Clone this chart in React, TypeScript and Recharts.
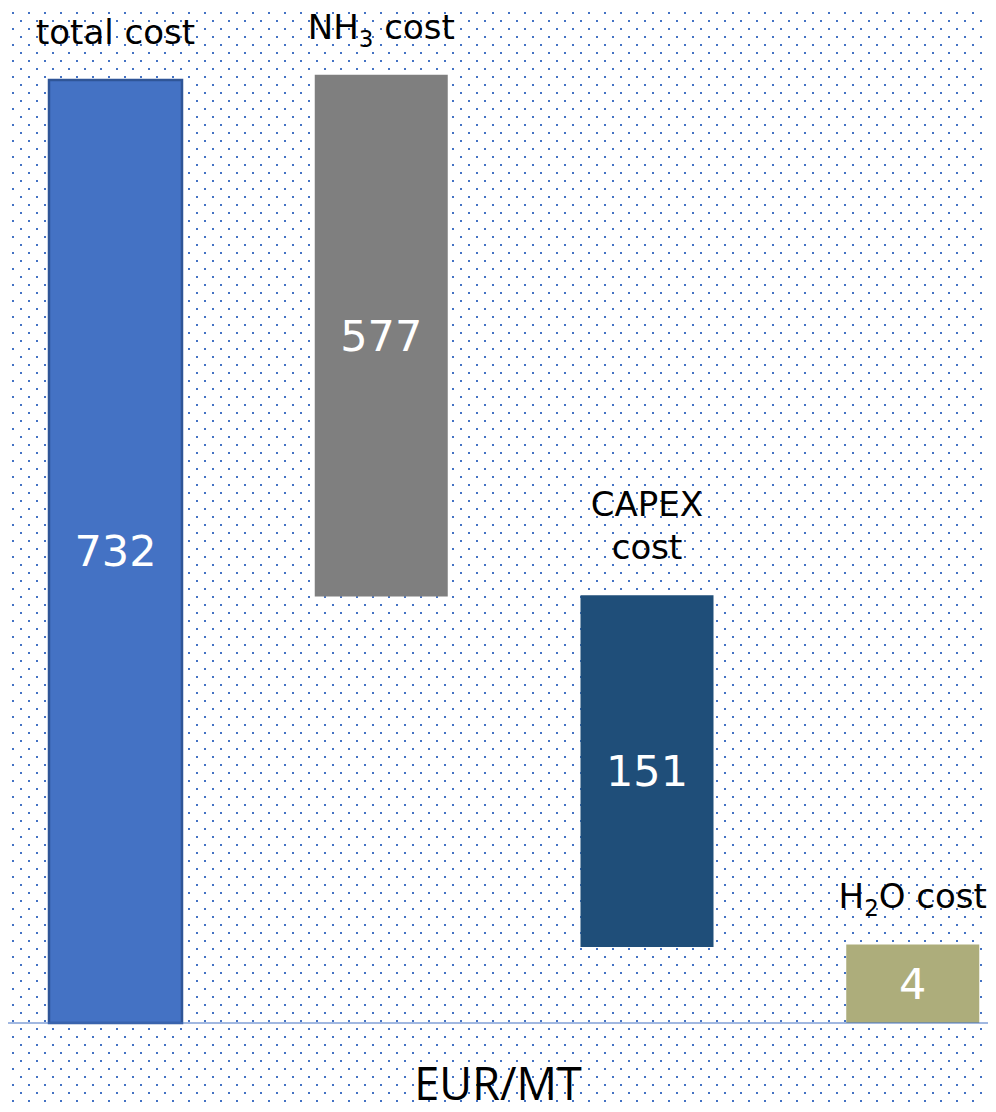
import React from "react";
import { BarChart, Bar, XAxis, YAxis, Cell, LabelList, ReferenceLine } from "recharts";

const categories = ["total cost", "NH3 cost", "CAPEX cost", "H2O cost"];
const categoryLines = [["total cost"], ["NH3 cost"], ["CAPEX", "cost"], ["H2O cost"]];
const values = [732, 577, 151, 4];
// floating waterfall extents, as drawn (schematic scale)
const barBottoms = [0, 331, 59, 0];
const barTops = [732, 736, 332, 61];
const colors = ["#4472C4", "#7F7F7F", "#1F4E79", "#ADAD7B"];
const unitLabel = "EUR/MT";

const data = categories.map((name, i) => ({
  name,
  value: values[i],
  range: [barBottoms[i], barTops[i]],
}));

const dots =
  "url(\"data:image/svg+xml;utf8,<svg xmlns='http://www.w3.org/2000/svg' width='16' height='16'><rect x='4' y='4' width='2' height='2' fill='%234472C4'/><rect x='12' y='12' width='2' height='2' fill='%234472C4'/></svg>\")";

const LABEL_FONT = "'DejaVu Sans', sans-serif";
const AXIS_FONT = "'Open Sans', sans-serif";

// renders "NH3" style text with a subscript digit
const renderLine = (text: string) => {
  const parts = text.split(/(?<=[A-Z])(\d)/);
  const out: React.ReactNode[] = [];
  let shifted = false;
  parts.forEach((p, k) => {
    if (!p) return;
    if (/^\d$/.test(p) && k % 2 === 1) {
      out.push(
        <tspan key={k} dy={8} fontSize={23}>
          {p}
        </tspan>
      );
      shifted = true;
    } else {
      out.push(
        <tspan key={k} dy={shifted ? -8 : 0}>
          {p}
        </tspan>
      );
      shifted = false;
    }
  });
  return out;
};

const NameLabel = (props: any) => {
  const { x, y, width, height, index } = props;
  const top = Math.min(y, y + height);
  const lines = categoryLines[index];
  const cx = x + width / 2;
  const lineGap = 43;
  return (
    <g>
      {lines.map((ln, k) => (
        <text
          key={k}
          x={cx}
          y={top - 36 - (lines.length - 1 - k) * lineGap}
          textAnchor="middle"
          fontSize={34}
          fontFamily={LABEL_FONT}
          fill="#000"
        >
          {renderLine(ln)}
        </text>
      ))}
    </g>
  );
};

const ValueLabel = (props: any) => {
  const { x, y, width, height, index } = props;
  const cy = y + height / 2;
  return (
    <text
      x={x + width / 2}
      y={cy}
      textAnchor="middle"
      dominantBaseline="central"
      fontSize={43}
      fontFamily={LABEL_FONT}
      fill="#fff"
    >
      {values[index]}
    </text>
  );
};

export default function App() {
  return (
    <div
      style={{
        position: "relative",
        width: 996,
        height: 1112,
        margin: -8,
        overflow: "hidden",
        background: "#fff",
        backgroundImage: dots,
        backgroundSize: "16px 16px",
      }}
    >
      <div style={{ position: "absolute", left: -17, top: 0 }}>
        <BarChart
          width={1063}
          height={1112}
          data={data}
          margin={{ top: 0, right: 0, bottom: 89, left: 0 }}
          barSize={133}
        >
          <XAxis dataKey="name" hide />
          <YAxis hide domain={[0, 794]} />
          <Bar dataKey="range" isAnimationActive={false}>
            {data.map((d, i) => (
              <Cell
                key={d.name}
                fill={colors[i]}
                stroke={i === 0 ? "#2F5597" : "none"}
                strokeWidth={i === 0 ? 2.5 : 0}
              />
            ))}
            <LabelList dataKey="name" content={NameLabel} />
            <LabelList dataKey="value" content={ValueLabel} />
          </Bar>
          <ReferenceLine y={0} stroke="#4472C4" strokeWidth={1.2} ifOverflow="extendDomain" />
        </BarChart>
      </div>
      <div
        style={{
          position: "absolute",
          left: 0,
          width: 996,
          top: 1059,
          textAlign: "center",
          fontFamily: AXIS_FONT,
          fontSize: 45,
          lineHeight: "48px",
          color: "#000",
        }}
      >
        {unitLabel}
      </div>
    </div>
  );
}
